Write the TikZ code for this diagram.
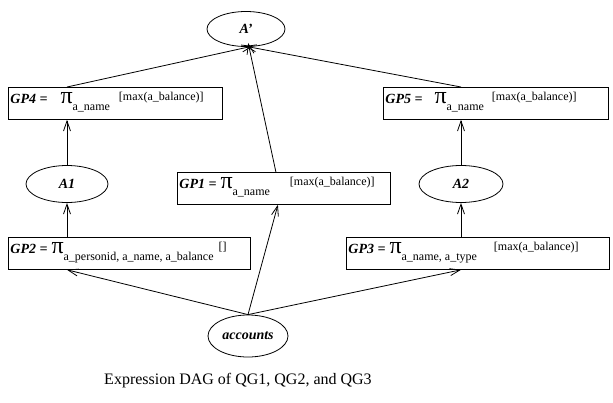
\documentclass[tikz,border=0pt]{standalone}
\usepackage{fontspec}
\setmainfont{Liberation Serif}
\usetikzlibrary{arrows.meta,shapes.geometric}

% fonts for the projection labels
\newcommand{\labfont}{\fontsize{14}{14}\selectfont\bfseries\itshape}
\newcommand{\pifont}{\fontsize{24}{24}\selectfont}
\newcommand{\idxfont}{\fontsize{12}{12}\selectfont}
% #1 width, #2 name, #3 gap before pi, #4 subscript, #5 gap, #6 superscript
\newcommand{\gpexpr}[6]{\makebox[#1][l]{{\labfont #2 =}\hspace{#3}{\pifont π}\raisebox{-7pt}{\idxfont #4}\hspace{#5}\raisebox{3pt}{\idxfont #6}}}

\tikzset{
  gpbox/.style={draw, line width=0.8pt, anchor=north west, inner xsep=2pt, inner ysep=0pt,
                text height=16pt, text depth=16pt},
  opnode/.style={draw, ellipse, line width=0.8pt, inner sep=0pt, font=\labfont},
  arr/.style={line width=0.8pt, -{Straight Barb[length=10pt,width=7pt]}}
}

\begin{document}
\begin{tikzpicture}[x=1pt,y=-1pt]
  \useasboundingbox (0,0) rectangle (613,402);

  % aggregate and base-table nodes
  \node[opnode, minimum width=78pt, minimum height=35pt] (Ap) at (246,29) {A'};
  \node[opnode, minimum width=82pt, minimum height=37pt] (A1) at (67,184) {A1};
  \node[opnode, minimum width=84pt, minimum height=37pt] (A2) at (461,184) {A2};
  \node[opnode, minimum width=80pt, minimum height=42pt] (acc) at (248,336) {accounts};

  % projection boxes
  \node[gpbox] (GP4) at (8,87)   {\gpexpr{210pt}{GP4}{13pt}{a\_name}{9pt}{[max(a\_balance)]}};
  \node[gpbox] (GP5) at (383,87) {\gpexpr{221pt}{GP5}{12pt}{a\_name}{8pt}{[max(a\_balance)]}};
  \node[gpbox] (GP1) at (177,172) {\gpexpr{209pt}{GP1}{4pt}{a\_name}{20pt}{[max(a\_balance)]}};
  \node[gpbox] (GP2) at (8,237)  {\gpexpr{238pt}{GP2}{4pt}{a\_personid, a\_name, a\_balance}{5pt}{[]}};
  \node[gpbox] (GP3) at (346,237) {\gpexpr{259pt}{GP3}{4pt}{a\_name, a\_type}{17pt}{[max(a\_balance)]}};

  % caption
  \node[font=\fontsize{16}{16}\selectfont] (cap) at (238,381) {Expression DAG of QG1, QG2, and QG3};

  % edges into A'
  \draw[arr, shorten >=-4pt] (GP4.north -| A1) -- ([xshift=3pt]Ap.south);
  \draw[arr, shorten >=-4pt] (GP5.north -| A2) -- ([xshift=3pt]Ap.south);
  \draw[arr, shorten >=-4pt] ([xshift=-8pt]GP1.north) -- ([xshift=3pt]Ap.south);

  % left and right chains
  \draw[arr] (A1.north) -- (GP4.south -| A1);
  \draw[arr] (GP2.north -| A1) -- (A1.south);
  \draw[arr] (A2.north) -- (GP5.south -| A2);
  \draw[arr] (GP3.north -| A2) -- (A2.south);

  % edges out of accounts
  \draw[arr] (acc.north) -- (GP2.south -| A1);
  \draw[arr] (acc.north) -- ([xshift=-6pt]GP1.south);
  \draw[arr] (acc.north) -- (GP3.south -| A2);
\end{tikzpicture}
\end{document}
